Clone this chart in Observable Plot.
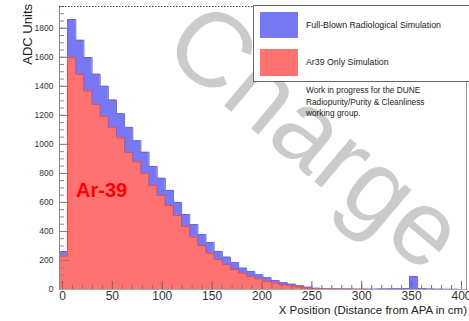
<!DOCTYPE html>
<html>
<head>
<meta charset="utf-8">
<script src="https://cdn.jsdelivr.net/npm/d3@7"></script>
<script src="https://cdn.jsdelivr.net/npm/@observablehq/plot@0.6"></script>
<style>
  html, body { margin: 0; padding: 0; background: #fff; }
  #chart { position: relative; width: 469px; height: 321px; overflow: hidden; }
</style>
</head>
<body>
<div id="chart"></div>
<script>
// Histogram binning (cm)
const binStart = -3;
const binWidth = 8.16;

// Full-Blown Radiological Simulation (ADC units per bin)
const fullBlown = [
  262, 1860, 1717, 1598, 1483, 1400, 1305, 1211, 1117, 1025,
  945, 848, 766, 683, 600, 517, 448, 379, 324, 262,
  223, 186, 147, 124, 101, 81, 62, 46, 36, 26,
  16, 8, 5, 4, 3, 3, 2, 2, 2, 3,
  4, 5, 5, 90, 6, 3, 2, 1, 1, 0
];
// Ar39 Only Simulation
const ar39Only = [
  230, 1598, 1483, 1368, 1276, 1193, 1115, 1045, 945, 880,
  800, 717, 648, 579, 510, 435, 361, 303, 250, 207,
  172, 138, 112, 90, 74, 57, 44, 33, 25, 17,
  10, 5, 3, 2, 2, 1, 1, 1, 0, 0,
  0, 0, 0, 0, 0, 0, 0, 0, 0, 0
];

const xTicksMajor = [0, 50, 100, 150, 200, 250, 300, 350, 400];
const xTicksMinor = d3.range(0, 405, 10);
const yTicksMajor = [0, 200, 400, 600, 800, 1000, 1200, 1400, 1600, 1800];
const yTicksMinor = d3.range(0, 1951, 50);

const legendLabels = ["Full-Blown Radiological Simulation", "Ar39 Only Simulation"];
const noteLines = ["Work in progress for the DUNE", "Radiopurity/Purity & Cleanliness", "working group."];
const xLabel = "X Position (Distance from APA in cm)";
const yLabel = "ADC Units";

const blueFill = "#7878f4";
const redFill = "#ff7272";

function bins(vals) {
  return vals.map((v, i) => ({x1: binStart + i * binWidth, x2: binStart + (i + 1) * binWidth, y: v}));
}
function steps(vals) {
  const b = bins(vals);
  const pts = b.map(d => ({x: d.x1, y: d.y}));
  pts.push({x: b[b.length - 1].x2, y: b[b.length - 1].y});
  return pts;
}

const W = 469, H = 321;
const xMin = binStart, xMax = binStart + binWidth * fullBlown.length;
const FONT = "Liberation Sans, Arial, sans-serif";

const plot = Plot.plot({
  width: W,
  height: H,
  marginLeft: 59,
  marginRight: 3,
  marginTop: 6,
  marginBottom: 32,
  style: {fontFamily: FONT, background: "transparent", overflow: "visible"},
  x: {domain: [xMin, xMax]},
  y: {domain: [0, 1950]},
  marks: [
    Plot.areaY(steps(fullBlown), {x: "x", y: "y", curve: "step-after", fill: blueFill}),
    Plot.line(steps(fullBlown), {x: "x", y: "y", curve: "step-after", stroke: "#6464f0", strokeWidth: 1}),
    Plot.areaY(steps(ar39Only), {x: "x", y: "y", curve: "step-after", fill: redFill}),
    Plot.line(steps(ar39Only), {x: "x", y: "y", curve: "step-after", stroke: "#e84a4a", strokeWidth: 1}),
    // inward ticks
    Plot.ruleY(yTicksMajor, {y: d => d, x1: xMin, x2: xMin + 10, stroke: "#777"}),
    Plot.ruleY(yTicksMinor, {y: d => d, x1: xMin, x2: xMin + 5, stroke: "#888"}),
    Plot.ruleX(xTicksMajor, {x: d => d, y1: 0, y2: 55, stroke: "#666"}),
    Plot.ruleX(xTicksMinor, {x: d => d, y1: 0, y2: 28, stroke: "#777"}),
    Plot.axisY(yTicksMajor, {tickSize: 0, tickPadding: 6, fontSize: 8.5, label: null, fill: "#333", tickFormat: d3.format("d")}),
    Plot.axisX(xTicksMajor, {tickSize: 0, tickPadding: 2, fontSize: 12, label: null, fill: "#333", tickFormat: d3.format("d")}),
    Plot.ruleX([xMin], {stroke: "#888"}),
    Plot.ruleY([0], {stroke: "#aaa"})
  ]
});

const chart = document.getElementById("chart");
chart.appendChild(plot);

const svg = d3.select(plot);
// watermark behind everything
const wm = svg.insert("g", ":first-child");
wm.append("text")
  .attr("transform", "translate(311,142) rotate(40)")
  .attr("text-anchor", "middle")
  .attr("dominant-baseline", "middle")
  .attr("font-family", FONT)
  .attr("font-size", 106)
  .attr("fill", "#cbcbcb")
  .text("Charge");

// frame: top dotted, right gray
svg.append("line").attr("x1", 59).attr("x2", 253).attr("y1", 6.5).attr("y2", 6.5)
  .attr("stroke", "#444").attr("stroke-dasharray", "1.5,1.5");
svg.append("line").attr("x1", 466.5).attr("x2", 466.5).attr("y1", 81).attr("y2", 289)
  .attr("stroke", "#999");

// legend box
const lg = svg.append("g").attr("font-family", FONT).attr("text-anchor", "start");
lg.append("rect").attr("x", 253.5).attr("y", 5.5).attr("width", 220).attr("height", 76)
  .attr("fill", "#fff").attr("stroke", "#666");
lg.append("rect").attr("x", 260).attr("y", 12).attr("width", 38).attr("height", 26).attr("fill", blueFill);
lg.append("rect").attr("x", 260).attr("y", 49).attr("width", 38).attr("height", 27).attr("fill", redFill);
lg.append("text").attr("x", 306).attr("y", 28).attr("font-size", 8.8).attr("fill", "#222").text(legendLabels[0]);
lg.append("text").attr("x", 306).attr("y", 65).attr("font-size", 8.8).attr("fill", "#222").text(legendLabels[1]);

// note
noteLines.forEach((t, i) => {
  lg.append("text").attr("x", 306).attr("y", 93 + i * 11.5).attr("font-size", 8.3).attr("fill", "#222").text(t);
});

// Ar-39 label
svg.append("text").attr("x", 76).attr("y", 197).attr("text-anchor", "start")
  .attr("font-family", FONT)
  .attr("font-size", 20).attr("font-weight", "bold").attr("fill", "#ff0000").text("Ar-39");

// axis labels
svg.append("text").attr("transform", "translate(32,4) rotate(-90)")
  .attr("text-anchor", "end")
  .attr("font-family", FONT)
  .attr("font-size", 13).attr("fill", "#222").text(yLabel);
svg.append("text").attr("x", 467).attr("y", 314)
  .attr("text-anchor", "end")
  .attr("font-family", FONT)
  .attr("font-size", 11.5).attr("fill", "#222").text(xLabel);
</script>
</body>
</html>
